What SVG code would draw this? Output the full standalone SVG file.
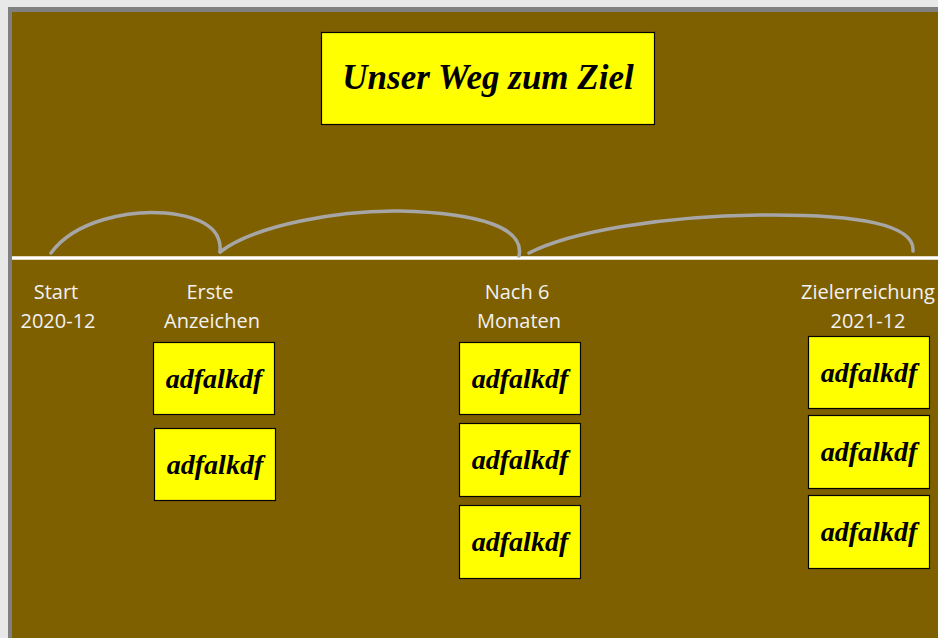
<svg xmlns="http://www.w3.org/2000/svg" width="938" height="638" viewBox="0 0 938 638">
<style>
.box{fill:#ffff00;stroke:#000;stroke-width:1.2}
.script{font-family:"Liberation Serif","DejaVu Serif",serif;font-style:italic;font-weight:bold;fill:#000;text-anchor:middle}
.lbl{font-family:"Open Sans","Liberation Sans",sans-serif;font-size:20px;fill:#f2f2f2;text-anchor:middle}
.arc{fill:none;stroke:#a6a6a6;stroke-width:3.5;stroke-linecap:round}
</style>
<rect x="0" y="0" width="938" height="638" fill="#e8e8e8"/>
<rect x="8" y="7" width="930" height="631" fill="#808080"/>
<rect x="12" y="12" width="926" height="626" fill="#7f6000"/>
<g id="title">
<rect class="box" x="321.5" y="32.5" width="333" height="92"/>
<text class="script" x="488" y="89" font-size="35">Unser Weg zum Ziel</text>
</g>
<g id="timeline">
<line x1="12" y1="258" x2="938" y2="258" stroke="#ffffff" stroke-width="3.5"/>
</g>
<g id="connectors">
<path class="arc" d="M51,253 C75,220 130,210 165,213 C205,217 222,230 220,252"/>
<path class="arc" d="M220,252 C255,225 340,210 400,211 C480,213 525,228 519,256"/>
<path class="arc" d="M529,253 C570,232 660,216 760,215 C860,214 915,225 913,251"/>
</g>
<g id="start">
<text class="lbl" x="56" y="299">Start</text>
<text class="lbl" x="58" y="328">2020-12</text>
</g>
<g id="erste">
<text class="lbl" x="210" y="299">Erste</text>
<text class="lbl" x="212" y="328">Anzeichen</text>
<rect class="box" x="153.5" y="342.5" width="121" height="72"/>
<text class="script" x="214" y="388" font-size="28">adfalkdf</text>
<rect class="box" x="154.5" y="428.5" width="121" height="72"/>
<text class="script" x="215" y="474" font-size="28">adfalkdf</text>
</g>
<g id="nach6">
<text class="lbl" x="517" y="299">Nach 6</text>
<text class="lbl" x="519" y="328">Monaten</text>
<rect class="box" x="459.5" y="342.5" width="121" height="72"/>
<text class="script" x="520" y="388" font-size="28">adfalkdf</text>
<rect class="box" x="459.5" y="423.5" width="121" height="73"/>
<text class="script" x="520" y="469" font-size="28">adfalkdf</text>
<rect class="box" x="459.5" y="505.5" width="121" height="73"/>
<text class="script" x="520" y="551" font-size="28">adfalkdf</text>
</g>
<g id="ziel">
<text class="lbl" x="868" y="299">Zielerreichung</text>
<text class="lbl" x="868" y="328">2021-12</text>
<rect class="box" x="808.5" y="336.5" width="121" height="72"/>
<text class="script" x="869" y="382" font-size="28">adfalkdf</text>
<rect class="box" x="808.5" y="415.5" width="121" height="73"/>
<text class="script" x="869" y="461" font-size="28">adfalkdf</text>
<rect class="box" x="808.5" y="495.5" width="121" height="73"/>
<text class="script" x="869" y="541" font-size="28">adfalkdf</text>
</g>
</svg>
